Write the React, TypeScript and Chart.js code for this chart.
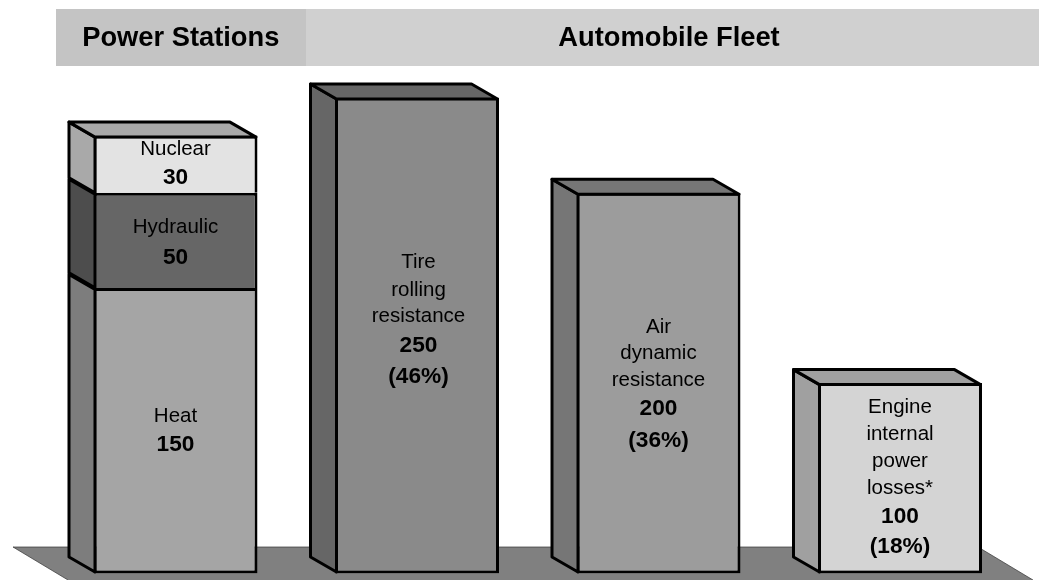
import React, { useEffect, useRef } from "react";
import { Chart, registerables } from "chart.js";

Chart.register(...registerables);

const categories = ["Power Stations", "Tire rolling resistance", "Air dynamic resistance", "Engine internal power losses*"];
const heat = [150, null, null, null];
const hydraulic = [50, null, null, null];
const nuclear = [30, null, null, null];
const tireRolling = [null, 250, null, null];
const airDynamic = [null, null, 200, null];
const engineLosses = [null, null, null, 100];
const headers = ["Power Stations", "Automobile Fleet"];
const heatLabel = ["Heat"];
const hydraulicLabel = ["Hydraulic"];
const nuclearLabel = ["Nuclear"];
const tireLabel = ["Tire", "rolling", "resistance"];
const airLabel = ["Air", "dynamic", "resistance"];
const engineLabel = ["Engine", "internal", "power", "losses*"];
const tireShare = "(46%)";
const airShare = "(36%)";
const engineShare = "(18%)";

const DX = -26;
const DY = -15;
const LINE = 3;
const FONT = '"Liberation Sans", Arial, sans-serif';

// Text rows are placed relative to the middle of their segment.
const series = [
  { data: heat, front: "#a5a5a5", side: "#7d7d7d", top: "#7d7d7d", lines: heatLabel, value: "150", extra: null, rows: [-8.7, 20.3], shift: 0, cap: false, skip: false },
  { data: hydraulic, front: "#666666", side: "#4d4d4d", top: "#4d4d4d", lines: hydraulicLabel, value: "50", extra: null, rows: [-7.3, 23.7], shift: 0, cap: false, skip: "bottom" },
  { data: nuclear, front: "#e3e3e3", side: "#a9a9a9", top: "#a9a9a9", lines: nuclearLabel, value: "30", extra: null, rows: [-9.1, 19.9], shift: 0, cap: true, skip: "bottom" },
  { data: tireRolling, front: "#8a8a8a", side: "#666666", top: "#666666", lines: tireLabel, value: "250", extra: tireShare, rows: [-67.5, -39.5, -13.5, 16.5, 47.5], shift: 1.5, cap: true, skip: false },
  { data: airDynamic, front: "#9c9c9c", side: "#767676", top: "#767676", lines: airLabel, value: "200", extra: airShare, rows: [-50, -24, 3, 32, 64], shift: 0, cap: true, skip: false },
  { data: engineLosses, front: "#d4d4d4", side: "#a0a0a0", top: "#a0a0a0", lines: engineLabel, value: "100", extra: engineShare, rows: [-65.3, -38.3, -11.3, 15.7, 44.7, 74.7], shift: 0, cap: true, skip: false },
];

const poly = (ctx: CanvasRenderingContext2D, pts: number[][], fill: string, stroke = true) => {
  ctx.beginPath();
  pts.forEach(([x, y], i) => (i ? ctx.lineTo(x, y) : ctx.moveTo(x, y)));
  ctx.closePath();
  ctx.fillStyle = fill;
  ctx.fill();
  if (stroke) {
    ctx.strokeStyle = "#000";
    ctx.lineWidth = LINE;
    ctx.lineJoin = "round";
    ctx.stroke();
  }
};

const scenery = {
  id: "scenery",
  beforeDatasetsDraw(chart: any) {
    const { ctx } = chart;
    ctx.save();
    // header bands
    ctx.fillStyle = "#c4c4c4";
    ctx.fillRect(56, 9, 250, 57);
    ctx.fillStyle = "#d0d0d0";
    ctx.fillRect(306, 9, 733, 57);
    ctx.fillStyle = "#000";
    ctx.textAlign = "center";
    ctx.textBaseline = "alphabetic";
    ctx.font = `bold 27.3px ${FONT}`;
    ctx.fillText(headers[0], 180.8, 46);
    ctx.fillText(headers[1], 669, 46);
    // floor
    poly(ctx, [[13, 547], [978, 547], [1033, 580], [68, 580]], "#808080", false);
    ctx.strokeStyle = "#333";
    ctx.lineWidth = 0.7;
    ctx.beginPath();
    ctx.moveTo(68, 580);
    ctx.lineTo(13, 547);
    ctx.lineTo(978, 547);
    ctx.lineTo(1033, 580);
    ctx.stroke();
    ctx.restore();
  },
  afterDatasetsDraw(chart: any) {
    const { ctx } = chart;
    ctx.save();
    series.forEach((s, di) => {
      const meta = chart.getDatasetMeta(di);
      s.data.forEach((v, i) => {
        if (v == null) return;
        const bar = meta.data[i] as any;
        const inset = LINE / 2;
        const left = bar.x - bar.width / 2 + inset;
        const right = bar.x + bar.width / 2 - inset;
        const top = bar.y + inset;
        const bottom = bar.base - (s.skip ? 0 : inset);
        poly(ctx, [[left, top], [left + DX, top + DY], [left + DX, bottom + DY], [left, bottom]], s.side);
        if (s.cap) {
          poly(ctx, [[left, top], [left + DX, top + DY], [right + DX, top + DY], [right, top]], s.top);
        }
        const mid = (bar.y + bar.base) / 2;
        const x = bar.x + s.shift;
        ctx.fillStyle = "#000";
        ctx.textAlign = "center";
        ctx.textBaseline = "alphabetic";
        ctx.font = `20.5px ${FONT}`;
        s.lines.forEach((line, r) => ctx.fillText(line, x, mid + s.rows[r]));
        ctx.font = `bold 22.7px ${FONT}`;
        const n = s.lines.length;
        ctx.fillText(s.value, x, mid + s.rows[n]);
        if (s.extra) ctx.fillText(s.extra, x, mid + s.rows[n + 1]);
      });
    });
    ctx.restore();
  },
};

export default function App() {
  const ref = useRef<HTMLCanvasElement>(null);
  useEffect(() => {
    const chart = new Chart(ref.current!, {
      type: "bar",
      data: {
        labels: categories,
        datasets: series.map((s) => ({
          data: s.data,
          backgroundColor: s.front,
          borderColor: "#000",
          borderWidth: LINE,
          borderSkipped: s.skip,
          stack: "total",
        })) as any,
      },
      options: {
        responsive: false,
        animation: false,
        devicePixelRatio: 1,
        barPercentage: 164 / 241.5,
        categoryPercentage: 1,
        layout: { padding: { left: 54.75, right: 18.25, top: 97.5, bottom: 6.5 } },
        plugins: { legend: { display: false }, tooltip: { enabled: false }, title: { display: false } },
        scales: {
          x: { display: false, stacked: true, grid: { display: false } },
          y: { display: false, stacked: true, min: 0, max: 250, grid: { display: false } },
        },
      } as any,
      plugins: [scenery],
    });
    return () => chart.destroy();
  }, []);
  return (
    <canvas
      ref={ref}
      width={1039}
      height={580}
      style={{ position: "absolute", left: 0, top: 0, width: 1039, height: 580, display: "block" }}
    />
  );
}
